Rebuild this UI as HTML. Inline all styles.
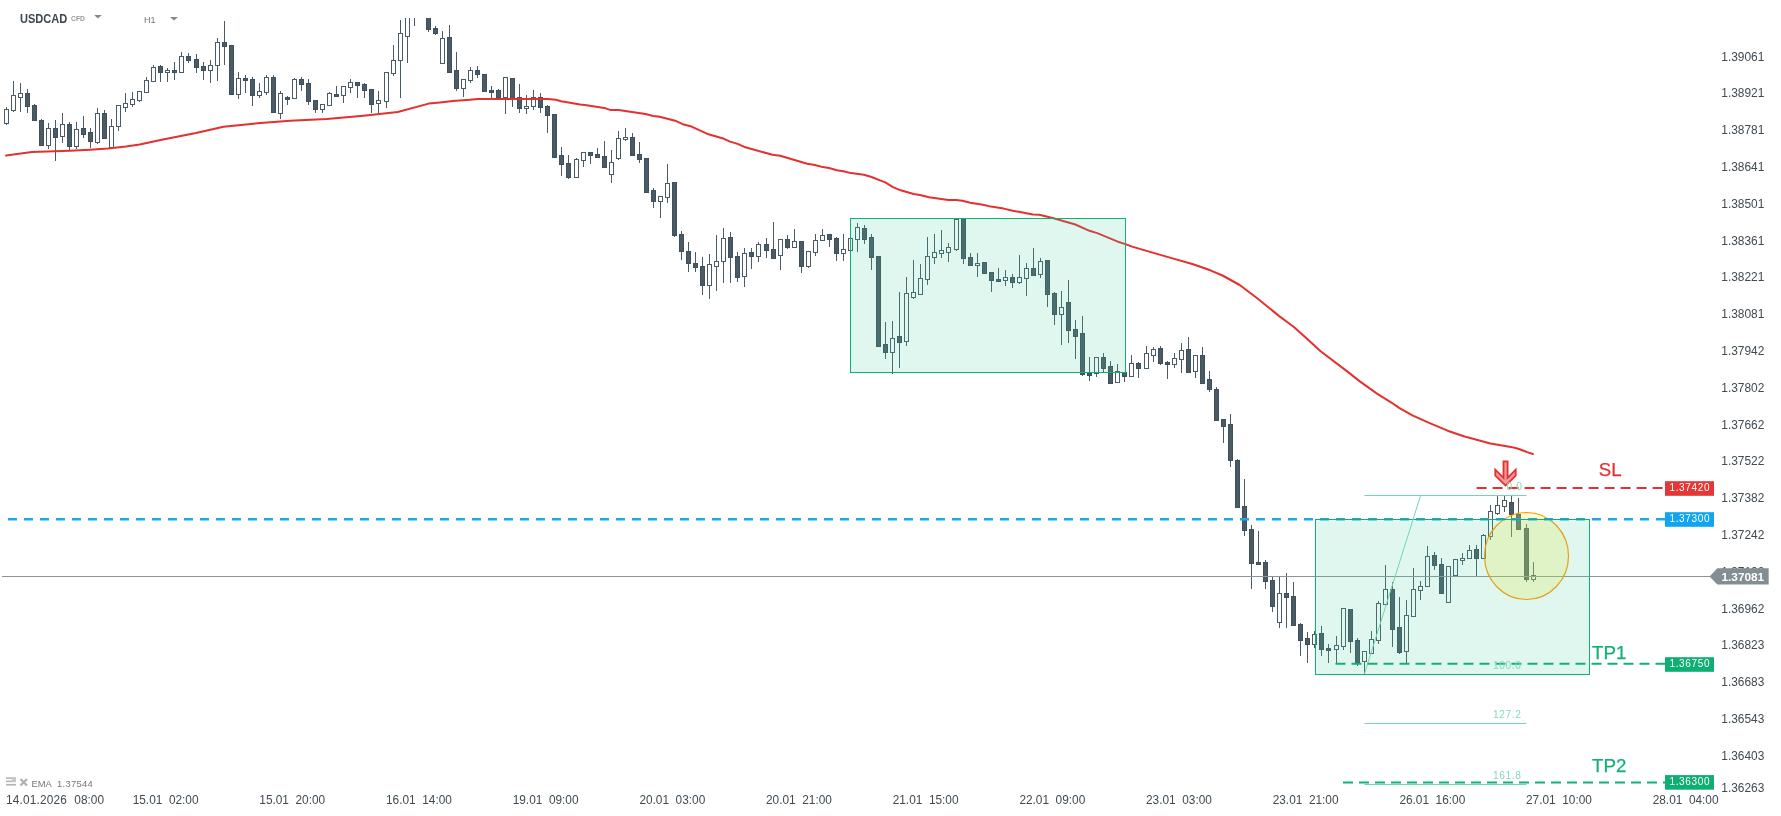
<!DOCTYPE html>
<html><head><meta charset="utf-8"><title>USDCAD H1</title>
<style>
html,body{margin:0;padding:0;background:#fff;}
body{width:1781px;height:816px;position:relative;overflow:hidden;font-family:"Liberation Sans",sans-serif;}
svg{position:absolute;left:0;top:0;}
.pl{position:absolute;left:1721.3px;font-size:11.9px;line-height:14px;height:14px;color:#3f4a52;white-space:nowrap;}
.tl{position:absolute;top:792.6px;font-size:11.85px;line-height:14px;height:14px;color:#3f4a52;white-space:nowrap;}
.tag{position:absolute;left:1665px;width:49px;height:14.6px;line-height:14.6px;color:#fff;font-size:10px;letter-spacing:0.65px;text-indent:0.6px;text-align:center;white-space:nowrap;}
.big{position:absolute;-webkit-text-stroke:0.25px;font-size:18.7px;line-height:20px;white-space:nowrap;}
.fib{position:absolute;left:1493px;font-size:10.2px;line-height:10px;color:#7fdcb8;letter-spacing:0.6px;white-space:nowrap;}
</style></head><body>
<svg width="1781" height="816" viewBox="0 0 1781 816">
<defs><clipPath id="cp"><rect x="0" y="18" width="1715" height="775"/></clipPath></defs>
<g clip-path="url(#cp)" shape-rendering="crispEdges">
<path d="M6.5 107V109" stroke="#4a5b66" stroke-width="1"/>
<path d="M6.5 124V125" stroke="#4a5b66" stroke-width="1"/>
<rect x="4.5" y="109.5" width="4" height="14" fill="#fff" stroke="#4a5b66" stroke-width="1"/>
<path d="M13.5 81V95" stroke="#4a5b66" stroke-width="1"/>
<path d="M13.5 111V112" stroke="#4a5b66" stroke-width="1"/>
<rect x="11.5" y="95.5" width="4" height="15" fill="#fff" stroke="#4a5b66" stroke-width="1"/>
<path d="M20.5 83V93" stroke="#4a5b66" stroke-width="1"/>
<path d="M20.5 98V112" stroke="#4a5b66" stroke-width="1"/>
<rect x="18.5" y="93.5" width="4" height="4" fill="#fff" stroke="#4a5b66" stroke-width="1"/>
<path d="M27.5 89V113" stroke="#4a5b66" stroke-width="1"/>
<rect x="25.5" y="93.5" width="4" height="13" fill="#4a5b66" stroke="#3e505c" stroke-width="1"/>
<path d="M34.5 104V121" stroke="#4a5b66" stroke-width="1"/>
<rect x="32.5" y="105.5" width="4" height="15" fill="#4a5b66" stroke="#3e505c" stroke-width="1"/>
<path d="M41.5 119V146" stroke="#4a5b66" stroke-width="1"/>
<rect x="39.5" y="120.5" width="4" height="25" fill="#4a5b66" stroke="#3e505c" stroke-width="1"/>
<path d="M48.5 123V128" stroke="#4a5b66" stroke-width="1"/>
<path d="M48.5 146V149" stroke="#4a5b66" stroke-width="1"/>
<rect x="46.5" y="128.5" width="4" height="17" fill="#fff" stroke="#4a5b66" stroke-width="1"/>
<path d="M55.5 120V161" stroke="#4a5b66" stroke-width="1"/>
<rect x="53.5" y="128.5" width="4" height="9" fill="#4a5b66" stroke="#3e505c" stroke-width="1"/>
<path d="M62.5 113V124" stroke="#4a5b66" stroke-width="1"/>
<path d="M62.5 137V143" stroke="#4a5b66" stroke-width="1"/>
<rect x="60.5" y="124.5" width="4" height="12" fill="#fff" stroke="#4a5b66" stroke-width="1"/>
<path d="M69.5 122V150" stroke="#4a5b66" stroke-width="1"/>
<rect x="67.5" y="124.5" width="4" height="22" fill="#4a5b66" stroke="#3e505c" stroke-width="1"/>
<path d="M76.5 122V129" stroke="#4a5b66" stroke-width="1"/>
<path d="M76.5 147V149" stroke="#4a5b66" stroke-width="1"/>
<rect x="74.5" y="129.5" width="4" height="17" fill="#fff" stroke="#4a5b66" stroke-width="1"/>
<path d="M83.5 116V138" stroke="#4a5b66" stroke-width="1"/>
<rect x="81.5" y="128.5" width="4" height="6" fill="#4a5b66" stroke="#3e505c" stroke-width="1"/>
<path d="M90.5 128V148" stroke="#4a5b66" stroke-width="1"/>
<rect x="88.5" y="132.5" width="4" height="9" fill="#4a5b66" stroke="#3e505c" stroke-width="1"/>
<path d="M97.5 108V113" stroke="#4a5b66" stroke-width="1"/>
<path d="M97.5 143V144" stroke="#4a5b66" stroke-width="1"/>
<rect x="95.5" y="113.5" width="4" height="29" fill="#fff" stroke="#4a5b66" stroke-width="1"/>
<path d="M104.5 110V139" stroke="#4a5b66" stroke-width="1"/>
<rect x="102.5" y="113.5" width="4" height="25" fill="#4a5b66" stroke="#3e505c" stroke-width="1"/>
<path d="M111.5 119V126" stroke="#4a5b66" stroke-width="1"/>
<rect x="109.5" y="126.5" width="4" height="21" fill="#fff" stroke="#4a5b66" stroke-width="1"/>
<path d="M118.5 127V131" stroke="#4a5b66" stroke-width="1"/>
<rect x="116.5" y="105.5" width="4" height="21" fill="#fff" stroke="#4a5b66" stroke-width="1"/>
<path d="M125.5 93V103" stroke="#4a5b66" stroke-width="1"/>
<path d="M125.5 108V112" stroke="#4a5b66" stroke-width="1"/>
<rect x="123.5" y="103.5" width="4" height="4" fill="#fff" stroke="#4a5b66" stroke-width="1"/>
<path d="M132.5 92V99" stroke="#4a5b66" stroke-width="1"/>
<path d="M132.5 105V107" stroke="#4a5b66" stroke-width="1"/>
<rect x="130.5" y="99.5" width="4" height="5" fill="#fff" stroke="#4a5b66" stroke-width="1"/>
<path d="M139.5 101V102" stroke="#4a5b66" stroke-width="1"/>
<rect x="137.5" y="91.5" width="4" height="9" fill="#fff" stroke="#4a5b66" stroke-width="1"/>
<path d="M146.5 77V80" stroke="#4a5b66" stroke-width="1"/>
<rect x="144.5" y="80.5" width="4" height="12" fill="#fff" stroke="#4a5b66" stroke-width="1"/>
<path d="M153.5 65V67" stroke="#4a5b66" stroke-width="1"/>
<rect x="151.5" y="67.5" width="4" height="14" fill="#fff" stroke="#4a5b66" stroke-width="1"/>
<path d="M160.5 65V82" stroke="#4a5b66" stroke-width="1"/>
<rect x="158.5" y="66.5" width="4" height="6" fill="#4a5b66" stroke="#3e505c" stroke-width="1"/>
<path d="M167.5 68V70" stroke="#4a5b66" stroke-width="1"/>
<path d="M167.5 73V82" stroke="#4a5b66" stroke-width="1"/>
<rect x="165.5" y="70.5" width="4" height="2" fill="#fff" stroke="#4a5b66" stroke-width="1"/>
<path d="M174.5 62V80" stroke="#4a5b66" stroke-width="1"/>
<rect x="172.5" y="70.5" width="4" height="2" fill="#4a5b66" stroke="#3e505c" stroke-width="1"/>
<path d="M181.5 52V56" stroke="#4a5b66" stroke-width="1"/>
<rect x="179.5" y="56.5" width="4" height="16" fill="#fff" stroke="#4a5b66" stroke-width="1"/>
<path d="M188.5 53V63" stroke="#4a5b66" stroke-width="1"/>
<rect x="186.5" y="56.5" width="4" height="4" fill="#4a5b66" stroke="#3e505c" stroke-width="1"/>
<path d="M196.5 54V73" stroke="#4a5b66" stroke-width="1"/>
<rect x="194.5" y="59.5" width="4" height="8" fill="#4a5b66" stroke="#3e505c" stroke-width="1"/>
<path d="M203.5 62V80" stroke="#4a5b66" stroke-width="1"/>
<rect x="201.5" y="66.5" width="4" height="4" fill="#4a5b66" stroke="#3e505c" stroke-width="1"/>
<path d="M210.5 60V65" stroke="#4a5b66" stroke-width="1"/>
<path d="M210.5 71V83" stroke="#4a5b66" stroke-width="1"/>
<rect x="208.5" y="65.5" width="4" height="5" fill="#fff" stroke="#4a5b66" stroke-width="1"/>
<path d="M217.5 38V42" stroke="#4a5b66" stroke-width="1"/>
<path d="M217.5 66V81" stroke="#4a5b66" stroke-width="1"/>
<rect x="215.5" y="42.5" width="4" height="23" fill="#fff" stroke="#4a5b66" stroke-width="1"/>
<path d="M224.5 21V65" stroke="#4a5b66" stroke-width="1"/>
<rect x="222.5" y="42.5" width="4" height="4" fill="#4a5b66" stroke="#3e505c" stroke-width="1"/>
<path d="M231.5 45V95" stroke="#4a5b66" stroke-width="1"/>
<rect x="229.5" y="45.5" width="4" height="49" fill="#4a5b66" stroke="#3e505c" stroke-width="1"/>
<path d="M238.5 72V78" stroke="#4a5b66" stroke-width="1"/>
<path d="M238.5 95V99" stroke="#4a5b66" stroke-width="1"/>
<rect x="236.5" y="78.5" width="4" height="16" fill="#fff" stroke="#4a5b66" stroke-width="1"/>
<path d="M245.5 75V93" stroke="#4a5b66" stroke-width="1"/>
<rect x="243.5" y="78.5" width="4" height="2" fill="#4a5b66" stroke="#3e505c" stroke-width="1"/>
<path d="M252.5 77V106" stroke="#4a5b66" stroke-width="1"/>
<rect x="250.5" y="79.5" width="4" height="16" fill="#4a5b66" stroke="#3e505c" stroke-width="1"/>
<path d="M259.5 83V91" stroke="#4a5b66" stroke-width="1"/>
<path d="M259.5 96V98" stroke="#4a5b66" stroke-width="1"/>
<rect x="257.5" y="91.5" width="4" height="4" fill="#fff" stroke="#4a5b66" stroke-width="1"/>
<path d="M266.5 75V77" stroke="#4a5b66" stroke-width="1"/>
<path d="M266.5 93V95" stroke="#4a5b66" stroke-width="1"/>
<rect x="264.5" y="77.5" width="4" height="15" fill="#fff" stroke="#4a5b66" stroke-width="1"/>
<path d="M273.5 75V113" stroke="#4a5b66" stroke-width="1"/>
<rect x="271.5" y="77.5" width="4" height="35" fill="#4a5b66" stroke="#3e505c" stroke-width="1"/>
<path d="M280.5 91V93" stroke="#4a5b66" stroke-width="1"/>
<path d="M280.5 114V119" stroke="#4a5b66" stroke-width="1"/>
<rect x="278.5" y="93.5" width="4" height="20" fill="#fff" stroke="#4a5b66" stroke-width="1"/>
<path d="M287.5 96V105" stroke="#4a5b66" stroke-width="1"/>
<rect x="285.5" y="97.5" width="4" height="2" fill="#4a5b66" stroke="#3e505c" stroke-width="1"/>
<path d="M294.5 78V79" stroke="#4a5b66" stroke-width="1"/>
<rect x="292.5" y="79.5" width="4" height="19" fill="#fff" stroke="#4a5b66" stroke-width="1"/>
<path d="M301.5 77V91" stroke="#4a5b66" stroke-width="1"/>
<rect x="299.5" y="79.5" width="4" height="5" fill="#4a5b66" stroke="#3e505c" stroke-width="1"/>
<path d="M308.5 79V105" stroke="#4a5b66" stroke-width="1"/>
<rect x="306.5" y="83.5" width="4" height="18" fill="#4a5b66" stroke="#3e505c" stroke-width="1"/>
<path d="M315.5 100V113" stroke="#4a5b66" stroke-width="1"/>
<rect x="313.5" y="100.5" width="4" height="9" fill="#4a5b66" stroke="#3e505c" stroke-width="1"/>
<path d="M322.5 110V113" stroke="#4a5b66" stroke-width="1"/>
<rect x="320.5" y="104.5" width="4" height="5" fill="#fff" stroke="#4a5b66" stroke-width="1"/>
<path d="M329.5 92V93" stroke="#4a5b66" stroke-width="1"/>
<rect x="327.5" y="93.5" width="4" height="12" fill="#fff" stroke="#4a5b66" stroke-width="1"/>
<path d="M336.5 86V97" stroke="#4a5b66" stroke-width="1"/>
<rect x="334.5" y="94.5" width="4" height="2" fill="#4a5b66" stroke="#3e505c" stroke-width="1"/>
<path d="M343.5 96V103" stroke="#4a5b66" stroke-width="1"/>
<rect x="341.5" y="86.5" width="4" height="9" fill="#fff" stroke="#4a5b66" stroke-width="1"/>
<path d="M350.5 79V82" stroke="#4a5b66" stroke-width="1"/>
<path d="M350.5 88V93" stroke="#4a5b66" stroke-width="1"/>
<rect x="348.5" y="82.5" width="4" height="5" fill="#fff" stroke="#4a5b66" stroke-width="1"/>
<path d="M357.5 82V98" stroke="#4a5b66" stroke-width="1"/>
<rect x="355.5" y="82.5" width="4" height="3" fill="#4a5b66" stroke="#3e505c" stroke-width="1"/>
<path d="M364.5 83V98" stroke="#4a5b66" stroke-width="1"/>
<rect x="362.5" y="84.5" width="4" height="6" fill="#4a5b66" stroke="#3e505c" stroke-width="1"/>
<path d="M371.5 89V113" stroke="#4a5b66" stroke-width="1"/>
<rect x="369.5" y="89.5" width="4" height="15" fill="#4a5b66" stroke="#3e505c" stroke-width="1"/>
<path d="M378.5 91V100" stroke="#4a5b66" stroke-width="1"/>
<path d="M378.5 104V113" stroke="#4a5b66" stroke-width="1"/>
<rect x="376.5" y="100.5" width="4" height="3" fill="#fff" stroke="#4a5b66" stroke-width="1"/>
<path d="M386.5 102V108" stroke="#4a5b66" stroke-width="1"/>
<rect x="384.5" y="72.5" width="4" height="29" fill="#fff" stroke="#4a5b66" stroke-width="1"/>
<path d="M393.5 45V60" stroke="#4a5b66" stroke-width="1"/>
<path d="M393.5 74V76" stroke="#4a5b66" stroke-width="1"/>
<rect x="391.5" y="60.5" width="4" height="13" fill="#fff" stroke="#4a5b66" stroke-width="1"/>
<path d="M400.5 20V33" stroke="#4a5b66" stroke-width="1"/>
<path d="M400.5 61V98" stroke="#4a5b66" stroke-width="1"/>
<rect x="398.5" y="33.5" width="4" height="27" fill="#fff" stroke="#4a5b66" stroke-width="1"/>
<path d="M407.5 37V63" stroke="#4a5b66" stroke-width="1"/>
<rect x="405.5" y="-9.5" width="4" height="46" fill="#fff" stroke="#4a5b66" stroke-width="1"/>
<path d="M414.5 -4V26" stroke="#4a5b66" stroke-width="1"/>
<rect x="412.5" y="-9.5" width="4" height="5" fill="#fff" stroke="#4a5b66" stroke-width="1"/>
<path d="M428.5 -10V32" stroke="#4a5b66" stroke-width="1"/>
<rect x="426.5" y="-9.5" width="4" height="39" fill="#4a5b66" stroke="#3e505c" stroke-width="1"/>
<path d="M435.5 26V35" stroke="#4a5b66" stroke-width="1"/>
<rect x="433.5" y="28.5" width="4" height="5" fill="#4a5b66" stroke="#3e505c" stroke-width="1"/>
<path d="M442.5 31V38" stroke="#4a5b66" stroke-width="1"/>
<rect x="440.5" y="38.5" width="4" height="25" fill="#fff" stroke="#4a5b66" stroke-width="1"/>
<path d="M449.5 25V73" stroke="#4a5b66" stroke-width="1"/>
<rect x="447.5" y="37.5" width="4" height="35" fill="#4a5b66" stroke="#3e505c" stroke-width="1"/>
<path d="M456.5 52V91" stroke="#4a5b66" stroke-width="1"/>
<rect x="454.5" y="70.5" width="4" height="18" fill="#4a5b66" stroke="#3e505c" stroke-width="1"/>
<path d="M463.5 89V97" stroke="#4a5b66" stroke-width="1"/>
<rect x="461.5" y="79.5" width="4" height="9" fill="#fff" stroke="#4a5b66" stroke-width="1"/>
<path d="M470.5 67V70" stroke="#4a5b66" stroke-width="1"/>
<path d="M470.5 81V83" stroke="#4a5b66" stroke-width="1"/>
<rect x="468.5" y="70.5" width="4" height="10" fill="#fff" stroke="#4a5b66" stroke-width="1"/>
<path d="M477.5 66V78" stroke="#4a5b66" stroke-width="1"/>
<rect x="475.5" y="70.5" width="4" height="4" fill="#4a5b66" stroke="#3e505c" stroke-width="1"/>
<path d="M484.5 74V92" stroke="#4a5b66" stroke-width="1"/>
<rect x="482.5" y="74.5" width="4" height="17" fill="#4a5b66" stroke="#3e505c" stroke-width="1"/>
<path d="M491.5 86V98" stroke="#4a5b66" stroke-width="1"/>
<rect x="489.5" y="90.5" width="4" height="2" fill="#4a5b66" stroke="#3e505c" stroke-width="1"/>
<path d="M498.5 89V98" stroke="#4a5b66" stroke-width="1"/>
<rect x="496.5" y="90.5" width="4" height="7" fill="#4a5b66" stroke="#3e505c" stroke-width="1"/>
<path d="M505.5 98V114" stroke="#4a5b66" stroke-width="1"/>
<rect x="503.5" y="77.5" width="4" height="20" fill="#fff" stroke="#4a5b66" stroke-width="1"/>
<path d="M512.5 78V107" stroke="#4a5b66" stroke-width="1"/>
<rect x="510.5" y="78.5" width="4" height="20" fill="#4a5b66" stroke="#3e505c" stroke-width="1"/>
<path d="M519.5 84V113" stroke="#4a5b66" stroke-width="1"/>
<rect x="517.5" y="97.5" width="4" height="11" fill="#4a5b66" stroke="#3e505c" stroke-width="1"/>
<path d="M526.5 95V106" stroke="#4a5b66" stroke-width="1"/>
<path d="M526.5 109V114" stroke="#4a5b66" stroke-width="1"/>
<rect x="524.5" y="106.5" width="4" height="2" fill="#fff" stroke="#4a5b66" stroke-width="1"/>
<path d="M533.5 90V97" stroke="#4a5b66" stroke-width="1"/>
<path d="M533.5 107V110" stroke="#4a5b66" stroke-width="1"/>
<rect x="531.5" y="97.5" width="4" height="9" fill="#fff" stroke="#4a5b66" stroke-width="1"/>
<path d="M540.5 93V113" stroke="#4a5b66" stroke-width="1"/>
<rect x="538.5" y="97.5" width="4" height="10" fill="#4a5b66" stroke="#3e505c" stroke-width="1"/>
<path d="M547.5 105V133" stroke="#4a5b66" stroke-width="1"/>
<rect x="545.5" y="106.5" width="4" height="9" fill="#4a5b66" stroke="#3e505c" stroke-width="1"/>
<path d="M554.5 114V158" stroke="#4a5b66" stroke-width="1"/>
<rect x="552.5" y="114.5" width="4" height="43" fill="#4a5b66" stroke="#3e505c" stroke-width="1"/>
<path d="M561.5 147V176" stroke="#4a5b66" stroke-width="1"/>
<rect x="559.5" y="155.5" width="4" height="9" fill="#4a5b66" stroke="#3e505c" stroke-width="1"/>
<path d="M568.5 155V179" stroke="#4a5b66" stroke-width="1"/>
<rect x="566.5" y="163.5" width="4" height="14" fill="#4a5b66" stroke="#3e505c" stroke-width="1"/>
<path d="M576.5 158V159" stroke="#4a5b66" stroke-width="1"/>
<rect x="574.5" y="159.5" width="4" height="18" fill="#fff" stroke="#4a5b66" stroke-width="1"/>
<path d="M583.5 161V167" stroke="#4a5b66" stroke-width="1"/>
<rect x="581.5" y="152.5" width="4" height="8" fill="#fff" stroke="#4a5b66" stroke-width="1"/>
<path d="M590.5 152V164" stroke="#4a5b66" stroke-width="1"/>
<rect x="588.5" y="152.5" width="4" height="3" fill="#4a5b66" stroke="#3e505c" stroke-width="1"/>
<path d="M597.5 148V158" stroke="#4a5b66" stroke-width="1"/>
<rect x="595.5" y="154.5" width="4" height="3" fill="#4a5b66" stroke="#3e505c" stroke-width="1"/>
<path d="M604.5 141V168" stroke="#4a5b66" stroke-width="1"/>
<rect x="602.5" y="156.5" width="4" height="11" fill="#4a5b66" stroke="#3e505c" stroke-width="1"/>
<path d="M611.5 150V162" stroke="#4a5b66" stroke-width="1"/>
<path d="M611.5 175V183" stroke="#4a5b66" stroke-width="1"/>
<rect x="609.5" y="162.5" width="4" height="12" fill="#fff" stroke="#4a5b66" stroke-width="1"/>
<path d="M618.5 131V138" stroke="#4a5b66" stroke-width="1"/>
<path d="M618.5 159V160" stroke="#4a5b66" stroke-width="1"/>
<rect x="616.5" y="138.5" width="4" height="20" fill="#fff" stroke="#4a5b66" stroke-width="1"/>
<path d="M625.5 128V137" stroke="#4a5b66" stroke-width="1"/>
<path d="M625.5 140V141" stroke="#4a5b66" stroke-width="1"/>
<rect x="623.5" y="137.5" width="4" height="2" fill="#fff" stroke="#4a5b66" stroke-width="1"/>
<path d="M632.5 133V156" stroke="#4a5b66" stroke-width="1"/>
<rect x="630.5" y="137.5" width="4" height="18" fill="#4a5b66" stroke="#3e505c" stroke-width="1"/>
<path d="M639.5 142V163" stroke="#4a5b66" stroke-width="1"/>
<rect x="637.5" y="154.5" width="4" height="5" fill="#4a5b66" stroke="#3e505c" stroke-width="1"/>
<path d="M646.5 158V193" stroke="#4a5b66" stroke-width="1"/>
<rect x="644.5" y="158.5" width="4" height="34" fill="#4a5b66" stroke="#3e505c" stroke-width="1"/>
<path d="M653.5 188V208" stroke="#4a5b66" stroke-width="1"/>
<rect x="651.5" y="190.5" width="4" height="11" fill="#4a5b66" stroke="#3e505c" stroke-width="1"/>
<path d="M660.5 202V218" stroke="#4a5b66" stroke-width="1"/>
<rect x="658.5" y="196.5" width="4" height="5" fill="#fff" stroke="#4a5b66" stroke-width="1"/>
<path d="M667.5 164V183" stroke="#4a5b66" stroke-width="1"/>
<path d="M667.5 198V203" stroke="#4a5b66" stroke-width="1"/>
<rect x="665.5" y="183.5" width="4" height="14" fill="#fff" stroke="#4a5b66" stroke-width="1"/>
<path d="M674.5 182V237" stroke="#4a5b66" stroke-width="1"/>
<rect x="672.5" y="182.5" width="4" height="53" fill="#4a5b66" stroke="#3e505c" stroke-width="1"/>
<path d="M681.5 231V260" stroke="#4a5b66" stroke-width="1"/>
<rect x="679.5" y="234.5" width="4" height="17" fill="#4a5b66" stroke="#3e505c" stroke-width="1"/>
<path d="M688.5 242V272" stroke="#4a5b66" stroke-width="1"/>
<rect x="686.5" y="251.5" width="4" height="12" fill="#4a5b66" stroke="#3e505c" stroke-width="1"/>
<path d="M695.5 252V272" stroke="#4a5b66" stroke-width="1"/>
<rect x="693.5" y="263.5" width="4" height="4" fill="#4a5b66" stroke="#3e505c" stroke-width="1"/>
<path d="M702.5 257V295" stroke="#4a5b66" stroke-width="1"/>
<rect x="700.5" y="266.5" width="4" height="19" fill="#4a5b66" stroke="#3e505c" stroke-width="1"/>
<path d="M709.5 254V264" stroke="#4a5b66" stroke-width="1"/>
<path d="M709.5 286V299" stroke="#4a5b66" stroke-width="1"/>
<rect x="707.5" y="264.5" width="4" height="21" fill="#fff" stroke="#4a5b66" stroke-width="1"/>
<path d="M716.5 235V261" stroke="#4a5b66" stroke-width="1"/>
<path d="M716.5 267V291" stroke="#4a5b66" stroke-width="1"/>
<rect x="714.5" y="261.5" width="4" height="5" fill="#fff" stroke="#4a5b66" stroke-width="1"/>
<path d="M723.5 228V238" stroke="#4a5b66" stroke-width="1"/>
<path d="M723.5 262V283" stroke="#4a5b66" stroke-width="1"/>
<rect x="721.5" y="238.5" width="4" height="23" fill="#fff" stroke="#4a5b66" stroke-width="1"/>
<path d="M730.5 232V283" stroke="#4a5b66" stroke-width="1"/>
<rect x="728.5" y="237.5" width="4" height="20" fill="#4a5b66" stroke="#3e505c" stroke-width="1"/>
<path d="M737.5 252V282" stroke="#4a5b66" stroke-width="1"/>
<rect x="735.5" y="256.5" width="4" height="21" fill="#4a5b66" stroke="#3e505c" stroke-width="1"/>
<path d="M744.5 248V253" stroke="#4a5b66" stroke-width="1"/>
<path d="M744.5 277V287" stroke="#4a5b66" stroke-width="1"/>
<rect x="742.5" y="253.5" width="4" height="23" fill="#fff" stroke="#4a5b66" stroke-width="1"/>
<path d="M751.5 248V269" stroke="#4a5b66" stroke-width="1"/>
<rect x="749.5" y="252.5" width="4" height="4" fill="#4a5b66" stroke="#3e505c" stroke-width="1"/>
<path d="M758.5 242V244" stroke="#4a5b66" stroke-width="1"/>
<path d="M758.5 257V262" stroke="#4a5b66" stroke-width="1"/>
<rect x="756.5" y="244.5" width="4" height="12" fill="#fff" stroke="#4a5b66" stroke-width="1"/>
<path d="M766.5 238V258" stroke="#4a5b66" stroke-width="1"/>
<rect x="764.5" y="244.5" width="4" height="6" fill="#4a5b66" stroke="#3e505c" stroke-width="1"/>
<path d="M773.5 222V259" stroke="#4a5b66" stroke-width="1"/>
<rect x="771.5" y="249.5" width="4" height="9" fill="#4a5b66" stroke="#3e505c" stroke-width="1"/>
<path d="M780.5 256V270" stroke="#4a5b66" stroke-width="1"/>
<rect x="778.5" y="239.5" width="4" height="16" fill="#fff" stroke="#4a5b66" stroke-width="1"/>
<path d="M787.5 235V249" stroke="#4a5b66" stroke-width="1"/>
<rect x="785.5" y="239.5" width="4" height="8" fill="#4a5b66" stroke="#3e505c" stroke-width="1"/>
<path d="M794.5 229V241" stroke="#4a5b66" stroke-width="1"/>
<rect x="792.5" y="241.5" width="4" height="6" fill="#fff" stroke="#4a5b66" stroke-width="1"/>
<path d="M801.5 241V273" stroke="#4a5b66" stroke-width="1"/>
<rect x="799.5" y="241.5" width="4" height="25" fill="#4a5b66" stroke="#3e505c" stroke-width="1"/>
<path d="M808.5 267V268" stroke="#4a5b66" stroke-width="1"/>
<rect x="806.5" y="251.5" width="4" height="15" fill="#fff" stroke="#4a5b66" stroke-width="1"/>
<path d="M815.5 234V240" stroke="#4a5b66" stroke-width="1"/>
<path d="M815.5 253V256" stroke="#4a5b66" stroke-width="1"/>
<rect x="813.5" y="240.5" width="4" height="12" fill="#fff" stroke="#4a5b66" stroke-width="1"/>
<path d="M822.5 229V235" stroke="#4a5b66" stroke-width="1"/>
<rect x="820.5" y="235.5" width="4" height="5" fill="#fff" stroke="#4a5b66" stroke-width="1"/>
<path d="M829.5 234V247" stroke="#4a5b66" stroke-width="1"/>
<rect x="827.5" y="234.5" width="4" height="5" fill="#4a5b66" stroke="#3e505c" stroke-width="1"/>
<path d="M836.5 237V261" stroke="#4a5b66" stroke-width="1"/>
<rect x="834.5" y="238.5" width="4" height="15" fill="#4a5b66" stroke="#3e505c" stroke-width="1"/>
<path d="M843.5 234V249" stroke="#4a5b66" stroke-width="1"/>
<path d="M843.5 254V261" stroke="#4a5b66" stroke-width="1"/>
<rect x="841.5" y="249.5" width="4" height="4" fill="#fff" stroke="#4a5b66" stroke-width="1"/>
<rect x="848.5" y="238.5" width="4" height="12" fill="#fff" stroke="#4a5b66" stroke-width="1"/>
<path d="M857.5 223V227" stroke="#4a5b66" stroke-width="1"/>
<path d="M857.5 240V252" stroke="#4a5b66" stroke-width="1"/>
<rect x="855.5" y="227.5" width="4" height="12" fill="#fff" stroke="#4a5b66" stroke-width="1"/>
<path d="M864.5 225V244" stroke="#4a5b66" stroke-width="1"/>
<rect x="862.5" y="228.5" width="4" height="11" fill="#4a5b66" stroke="#3e505c" stroke-width="1"/>
<path d="M871.5 234V270" stroke="#4a5b66" stroke-width="1"/>
<rect x="869.5" y="237.5" width="4" height="20" fill="#4a5b66" stroke="#3e505c" stroke-width="1"/>
<path d="M878.5 256V347" stroke="#4a5b66" stroke-width="1"/>
<rect x="876.5" y="256.5" width="4" height="90" fill="#4a5b66" stroke="#3e505c" stroke-width="1"/>
<path d="M885.5 322V359" stroke="#4a5b66" stroke-width="1"/>
<rect x="883.5" y="344.5" width="4" height="8" fill="#4a5b66" stroke="#3e505c" stroke-width="1"/>
<path d="M892.5 321V338" stroke="#4a5b66" stroke-width="1"/>
<path d="M892.5 353V374" stroke="#4a5b66" stroke-width="1"/>
<rect x="890.5" y="338.5" width="4" height="14" fill="#fff" stroke="#4a5b66" stroke-width="1"/>
<path d="M899.5 292V368" stroke="#4a5b66" stroke-width="1"/>
<rect x="897.5" y="336.5" width="4" height="6" fill="#4a5b66" stroke="#3e505c" stroke-width="1"/>
<path d="M906.5 277V293" stroke="#4a5b66" stroke-width="1"/>
<path d="M906.5 342V346" stroke="#4a5b66" stroke-width="1"/>
<rect x="904.5" y="293.5" width="4" height="48" fill="#fff" stroke="#4a5b66" stroke-width="1"/>
<path d="M913.5 260V292" stroke="#4a5b66" stroke-width="1"/>
<path d="M913.5 298V299" stroke="#4a5b66" stroke-width="1"/>
<rect x="911.5" y="292.5" width="4" height="5" fill="#fff" stroke="#4a5b66" stroke-width="1"/>
<path d="M920.5 264V278" stroke="#4a5b66" stroke-width="1"/>
<rect x="918.5" y="278.5" width="4" height="16" fill="#fff" stroke="#4a5b66" stroke-width="1"/>
<path d="M927.5 237V256" stroke="#4a5b66" stroke-width="1"/>
<path d="M927.5 280V285" stroke="#4a5b66" stroke-width="1"/>
<rect x="925.5" y="256.5" width="4" height="23" fill="#fff" stroke="#4a5b66" stroke-width="1"/>
<path d="M934.5 234V252" stroke="#4a5b66" stroke-width="1"/>
<path d="M934.5 258V264" stroke="#4a5b66" stroke-width="1"/>
<rect x="932.5" y="252.5" width="4" height="5" fill="#fff" stroke="#4a5b66" stroke-width="1"/>
<path d="M941.5 230V250" stroke="#4a5b66" stroke-width="1"/>
<path d="M941.5 254V258" stroke="#4a5b66" stroke-width="1"/>
<rect x="939.5" y="250.5" width="4" height="3" fill="#fff" stroke="#4a5b66" stroke-width="1"/>
<path d="M948.5 243V247" stroke="#4a5b66" stroke-width="1"/>
<path d="M948.5 253V262" stroke="#4a5b66" stroke-width="1"/>
<rect x="946.5" y="247.5" width="4" height="5" fill="#fff" stroke="#4a5b66" stroke-width="1"/>
<path d="M956.5 250V251" stroke="#4a5b66" stroke-width="1"/>
<rect x="954.5" y="219.5" width="4" height="30" fill="#fff" stroke="#4a5b66" stroke-width="1"/>
<path d="M963.5 218V264" stroke="#4a5b66" stroke-width="1"/>
<rect x="961.5" y="218.5" width="4" height="40" fill="#4a5b66" stroke="#3e505c" stroke-width="1"/>
<path d="M970.5 253V266" stroke="#4a5b66" stroke-width="1"/>
<rect x="968.5" y="257.5" width="4" height="8" fill="#4a5b66" stroke="#3e505c" stroke-width="1"/>
<path d="M977.5 253V263" stroke="#4a5b66" stroke-width="1"/>
<path d="M977.5 266V277" stroke="#4a5b66" stroke-width="1"/>
<rect x="975.5" y="263.5" width="4" height="2" fill="#fff" stroke="#4a5b66" stroke-width="1"/>
<path d="M984.5 262V274" stroke="#4a5b66" stroke-width="1"/>
<rect x="982.5" y="262.5" width="4" height="11" fill="#4a5b66" stroke="#3e505c" stroke-width="1"/>
<path d="M991.5 272V292" stroke="#4a5b66" stroke-width="1"/>
<rect x="989.5" y="272.5" width="4" height="8" fill="#4a5b66" stroke="#3e505c" stroke-width="1"/>
<path d="M998.5 268V282" stroke="#4a5b66" stroke-width="1"/>
<rect x="996.5" y="279.5" width="4" height="2" fill="#4a5b66" stroke="#3e505c" stroke-width="1"/>
<path d="M1005.5 270V277" stroke="#4a5b66" stroke-width="1"/>
<path d="M1005.5 281V286" stroke="#4a5b66" stroke-width="1"/>
<rect x="1003.5" y="277.5" width="4" height="3" fill="#fff" stroke="#4a5b66" stroke-width="1"/>
<path d="M1012.5 274V288" stroke="#4a5b66" stroke-width="1"/>
<rect x="1010.5" y="277.5" width="4" height="5" fill="#4a5b66" stroke="#3e505c" stroke-width="1"/>
<path d="M1019.5 255V277" stroke="#4a5b66" stroke-width="1"/>
<path d="M1019.5 283V284" stroke="#4a5b66" stroke-width="1"/>
<rect x="1017.5" y="277.5" width="4" height="5" fill="#fff" stroke="#4a5b66" stroke-width="1"/>
<path d="M1026.5 263V268" stroke="#4a5b66" stroke-width="1"/>
<path d="M1026.5 279V296" stroke="#4a5b66" stroke-width="1"/>
<rect x="1024.5" y="268.5" width="4" height="10" fill="#fff" stroke="#4a5b66" stroke-width="1"/>
<path d="M1033.5 248V276" stroke="#4a5b66" stroke-width="1"/>
<rect x="1031.5" y="268.5" width="4" height="7" fill="#4a5b66" stroke="#3e505c" stroke-width="1"/>
<path d="M1040.5 258V261" stroke="#4a5b66" stroke-width="1"/>
<path d="M1040.5 275V278" stroke="#4a5b66" stroke-width="1"/>
<rect x="1038.5" y="261.5" width="4" height="13" fill="#fff" stroke="#4a5b66" stroke-width="1"/>
<path d="M1047.5 260V307" stroke="#4a5b66" stroke-width="1"/>
<rect x="1045.5" y="260.5" width="4" height="34" fill="#4a5b66" stroke="#3e505c" stroke-width="1"/>
<path d="M1054.5 292V325" stroke="#4a5b66" stroke-width="1"/>
<rect x="1052.5" y="293.5" width="4" height="21" fill="#4a5b66" stroke="#3e505c" stroke-width="1"/>
<path d="M1061.5 291V307" stroke="#4a5b66" stroke-width="1"/>
<path d="M1061.5 315V345" stroke="#4a5b66" stroke-width="1"/>
<rect x="1059.5" y="307.5" width="4" height="7" fill="#fff" stroke="#4a5b66" stroke-width="1"/>
<path d="M1068.5 280V343" stroke="#4a5b66" stroke-width="1"/>
<rect x="1066.5" y="302.5" width="4" height="28" fill="#4a5b66" stroke="#3e505c" stroke-width="1"/>
<path d="M1075.5 320V359" stroke="#4a5b66" stroke-width="1"/>
<rect x="1073.5" y="329.5" width="4" height="7" fill="#4a5b66" stroke="#3e505c" stroke-width="1"/>
<path d="M1082.5 316V376" stroke="#4a5b66" stroke-width="1"/>
<rect x="1080.5" y="333.5" width="4" height="41" fill="#4a5b66" stroke="#3e505c" stroke-width="1"/>
<path d="M1089.5 357V381" stroke="#4a5b66" stroke-width="1"/>
<rect x="1087.5" y="373.5" width="4" height="2" fill="#4a5b66" stroke="#3e505c" stroke-width="1"/>
<path d="M1096.5 374V377" stroke="#4a5b66" stroke-width="1"/>
<rect x="1094.5" y="357.5" width="4" height="16" fill="#fff" stroke="#4a5b66" stroke-width="1"/>
<path d="M1103.5 353V372" stroke="#4a5b66" stroke-width="1"/>
<rect x="1101.5" y="357.5" width="4" height="11" fill="#4a5b66" stroke="#3e505c" stroke-width="1"/>
<path d="M1110.5 361V384" stroke="#4a5b66" stroke-width="1"/>
<rect x="1108.5" y="366.5" width="4" height="17" fill="#4a5b66" stroke="#3e505c" stroke-width="1"/>
<path d="M1117.5 364V371" stroke="#4a5b66" stroke-width="1"/>
<rect x="1115.5" y="371.5" width="4" height="11" fill="#fff" stroke="#4a5b66" stroke-width="1"/>
<path d="M1124.5 372V382" stroke="#4a5b66" stroke-width="1"/>
<rect x="1122.5" y="372.5" width="4" height="4" fill="#4a5b66" stroke="#3e505c" stroke-width="1"/>
<path d="M1131.5 355V363" stroke="#4a5b66" stroke-width="1"/>
<rect x="1129.5" y="363.5" width="4" height="13" fill="#fff" stroke="#4a5b66" stroke-width="1"/>
<path d="M1138.5 362V378" stroke="#4a5b66" stroke-width="1"/>
<rect x="1136.5" y="363.5" width="4" height="5" fill="#4a5b66" stroke="#3e505c" stroke-width="1"/>
<path d="M1146.5 346V353" stroke="#4a5b66" stroke-width="1"/>
<rect x="1144.5" y="353.5" width="4" height="15" fill="#fff" stroke="#4a5b66" stroke-width="1"/>
<path d="M1153.5 347V349" stroke="#4a5b66" stroke-width="1"/>
<path d="M1153.5 356V362" stroke="#4a5b66" stroke-width="1"/>
<rect x="1151.5" y="349.5" width="4" height="6" fill="#fff" stroke="#4a5b66" stroke-width="1"/>
<path d="M1160.5 346V365" stroke="#4a5b66" stroke-width="1"/>
<rect x="1158.5" y="348.5" width="4" height="15" fill="#4a5b66" stroke="#3e505c" stroke-width="1"/>
<path d="M1167.5 361V379" stroke="#4a5b66" stroke-width="1"/>
<rect x="1165.5" y="362.5" width="4" height="2" fill="#4a5b66" stroke="#3e505c" stroke-width="1"/>
<path d="M1174.5 353V358" stroke="#4a5b66" stroke-width="1"/>
<path d="M1174.5 365V368" stroke="#4a5b66" stroke-width="1"/>
<rect x="1172.5" y="358.5" width="4" height="6" fill="#fff" stroke="#4a5b66" stroke-width="1"/>
<path d="M1181.5 343V350" stroke="#4a5b66" stroke-width="1"/>
<path d="M1181.5 360V373" stroke="#4a5b66" stroke-width="1"/>
<rect x="1179.5" y="350.5" width="4" height="9" fill="#fff" stroke="#4a5b66" stroke-width="1"/>
<path d="M1188.5 337V373" stroke="#4a5b66" stroke-width="1"/>
<rect x="1186.5" y="349.5" width="4" height="23" fill="#4a5b66" stroke="#3e505c" stroke-width="1"/>
<path d="M1195.5 372V378" stroke="#4a5b66" stroke-width="1"/>
<rect x="1193.5" y="355.5" width="4" height="16" fill="#fff" stroke="#4a5b66" stroke-width="1"/>
<path d="M1202.5 347V384" stroke="#4a5b66" stroke-width="1"/>
<rect x="1200.5" y="355.5" width="4" height="28" fill="#4a5b66" stroke="#3e505c" stroke-width="1"/>
<path d="M1209.5 371V392" stroke="#4a5b66" stroke-width="1"/>
<rect x="1207.5" y="379.5" width="4" height="10" fill="#4a5b66" stroke="#3e505c" stroke-width="1"/>
<path d="M1216.5 387V421" stroke="#4a5b66" stroke-width="1"/>
<rect x="1214.5" y="389.5" width="4" height="31" fill="#4a5b66" stroke="#3e505c" stroke-width="1"/>
<path d="M1223.5 419V443" stroke="#4a5b66" stroke-width="1"/>
<rect x="1221.5" y="419.5" width="4" height="7" fill="#4a5b66" stroke="#3e505c" stroke-width="1"/>
<path d="M1230.5 414V467" stroke="#4a5b66" stroke-width="1"/>
<rect x="1228.5" y="424.5" width="4" height="36" fill="#4a5b66" stroke="#3e505c" stroke-width="1"/>
<path d="M1237.5 459V508" stroke="#4a5b66" stroke-width="1"/>
<rect x="1235.5" y="460.5" width="4" height="47" fill="#4a5b66" stroke="#3e505c" stroke-width="1"/>
<path d="M1244.5 479V536" stroke="#4a5b66" stroke-width="1"/>
<rect x="1242.5" y="506.5" width="4" height="24" fill="#4a5b66" stroke="#3e505c" stroke-width="1"/>
<path d="M1251.5 525V589" stroke="#4a5b66" stroke-width="1"/>
<rect x="1249.5" y="529.5" width="4" height="34" fill="#4a5b66" stroke="#3e505c" stroke-width="1"/>
<path d="M1258.5 531V565" stroke="#4a5b66" stroke-width="1"/>
<rect x="1256.5" y="562.5" width="4" height="2" fill="#4a5b66" stroke="#3e505c" stroke-width="1"/>
<path d="M1265.5 560V589" stroke="#4a5b66" stroke-width="1"/>
<rect x="1263.5" y="562.5" width="4" height="19" fill="#4a5b66" stroke="#3e505c" stroke-width="1"/>
<path d="M1272.5 576V612" stroke="#4a5b66" stroke-width="1"/>
<rect x="1270.5" y="580.5" width="4" height="26" fill="#4a5b66" stroke="#3e505c" stroke-width="1"/>
<path d="M1279.5 577V593" stroke="#4a5b66" stroke-width="1"/>
<path d="M1279.5 623V628" stroke="#4a5b66" stroke-width="1"/>
<rect x="1277.5" y="593.5" width="4" height="29" fill="#fff" stroke="#4a5b66" stroke-width="1"/>
<path d="M1286.5 573V628" stroke="#4a5b66" stroke-width="1"/>
<rect x="1284.5" y="593.5" width="4" height="4" fill="#4a5b66" stroke="#3e505c" stroke-width="1"/>
<path d="M1293.5 582V626" stroke="#4a5b66" stroke-width="1"/>
<rect x="1291.5" y="596.5" width="4" height="29" fill="#4a5b66" stroke="#3e505c" stroke-width="1"/>
<path d="M1300.5 623V656" stroke="#4a5b66" stroke-width="1"/>
<rect x="1298.5" y="624.5" width="4" height="16" fill="#4a5b66" stroke="#3e505c" stroke-width="1"/>
<path d="M1307.5 632V663" stroke="#4a5b66" stroke-width="1"/>
<rect x="1305.5" y="638.5" width="4" height="6" fill="#4a5b66" stroke="#3e505c" stroke-width="1"/>
<path d="M1314.5 631V634" stroke="#4a5b66" stroke-width="1"/>
<path d="M1314.5 645V648" stroke="#4a5b66" stroke-width="1"/>
<rect x="1312.5" y="634.5" width="4" height="10" fill="#fff" stroke="#4a5b66" stroke-width="1"/>
<path d="M1321.5 626V656" stroke="#4a5b66" stroke-width="1"/>
<rect x="1319.5" y="633.5" width="4" height="16" fill="#4a5b66" stroke="#3e505c" stroke-width="1"/>
<path d="M1328.5 644V663" stroke="#4a5b66" stroke-width="1"/>
<rect x="1326.5" y="648.5" width="4" height="2" fill="#4a5b66" stroke="#3e505c" stroke-width="1"/>
<path d="M1336.5 636V645" stroke="#4a5b66" stroke-width="1"/>
<path d="M1336.5 650V663" stroke="#4a5b66" stroke-width="1"/>
<rect x="1334.5" y="645.5" width="4" height="4" fill="#fff" stroke="#4a5b66" stroke-width="1"/>
<path d="M1343.5 647V650" stroke="#4a5b66" stroke-width="1"/>
<rect x="1341.5" y="608.5" width="4" height="38" fill="#fff" stroke="#4a5b66" stroke-width="1"/>
<path d="M1350.5 609V653" stroke="#4a5b66" stroke-width="1"/>
<rect x="1348.5" y="609.5" width="4" height="32" fill="#4a5b66" stroke="#3e505c" stroke-width="1"/>
<path d="M1357.5 638V666" stroke="#4a5b66" stroke-width="1"/>
<rect x="1355.5" y="640.5" width="4" height="22" fill="#4a5b66" stroke="#3e505c" stroke-width="1"/>
<path d="M1364.5 662V674" stroke="#4a5b66" stroke-width="1"/>
<rect x="1362.5" y="651.5" width="4" height="10" fill="#fff" stroke="#4a5b66" stroke-width="1"/>
<path d="M1371.5 631V639" stroke="#4a5b66" stroke-width="1"/>
<rect x="1369.5" y="639.5" width="4" height="14" fill="#fff" stroke="#4a5b66" stroke-width="1"/>
<path d="M1378.5 601V603" stroke="#4a5b66" stroke-width="1"/>
<path d="M1378.5 641V644" stroke="#4a5b66" stroke-width="1"/>
<rect x="1376.5" y="603.5" width="4" height="37" fill="#fff" stroke="#4a5b66" stroke-width="1"/>
<path d="M1385.5 565V589" stroke="#4a5b66" stroke-width="1"/>
<rect x="1383.5" y="589.5" width="4" height="15" fill="#fff" stroke="#4a5b66" stroke-width="1"/>
<path d="M1392.5 582V647" stroke="#4a5b66" stroke-width="1"/>
<rect x="1390.5" y="589.5" width="4" height="40" fill="#4a5b66" stroke="#3e505c" stroke-width="1"/>
<path d="M1399.5 597V654" stroke="#4a5b66" stroke-width="1"/>
<rect x="1397.5" y="627.5" width="4" height="25" fill="#4a5b66" stroke="#3e505c" stroke-width="1"/>
<path d="M1406.5 600V615" stroke="#4a5b66" stroke-width="1"/>
<path d="M1406.5 652V663" stroke="#4a5b66" stroke-width="1"/>
<rect x="1404.5" y="615.5" width="4" height="36" fill="#fff" stroke="#4a5b66" stroke-width="1"/>
<path d="M1413.5 568V589" stroke="#4a5b66" stroke-width="1"/>
<rect x="1411.5" y="589.5" width="4" height="27" fill="#fff" stroke="#4a5b66" stroke-width="1"/>
<path d="M1420.5 581V586" stroke="#4a5b66" stroke-width="1"/>
<path d="M1420.5 591V600" stroke="#4a5b66" stroke-width="1"/>
<rect x="1418.5" y="586.5" width="4" height="4" fill="#fff" stroke="#4a5b66" stroke-width="1"/>
<path d="M1427.5 546V556" stroke="#4a5b66" stroke-width="1"/>
<rect x="1425.5" y="556.5" width="4" height="30" fill="#fff" stroke="#4a5b66" stroke-width="1"/>
<path d="M1434.5 552V570" stroke="#4a5b66" stroke-width="1"/>
<rect x="1432.5" y="555.5" width="4" height="10" fill="#4a5b66" stroke="#3e505c" stroke-width="1"/>
<path d="M1441.5 558V594" stroke="#4a5b66" stroke-width="1"/>
<rect x="1439.5" y="564.5" width="4" height="29" fill="#4a5b66" stroke="#3e505c" stroke-width="1"/>
<rect x="1446.5" y="566.5" width="4" height="36" fill="#fff" stroke="#4a5b66" stroke-width="1"/>
<rect x="1453.5" y="559.5" width="4" height="16" fill="#fff" stroke="#4a5b66" stroke-width="1"/>
<path d="M1462.5 553V558" stroke="#4a5b66" stroke-width="1"/>
<path d="M1462.5 561V565" stroke="#4a5b66" stroke-width="1"/>
<rect x="1460.5" y="558.5" width="4" height="2" fill="#fff" stroke="#4a5b66" stroke-width="1"/>
<path d="M1469.5 545V550" stroke="#4a5b66" stroke-width="1"/>
<rect x="1467.5" y="550.5" width="4" height="8" fill="#fff" stroke="#4a5b66" stroke-width="1"/>
<path d="M1476.5 545V576" stroke="#4a5b66" stroke-width="1"/>
<rect x="1474.5" y="549.5" width="4" height="9" fill="#4a5b66" stroke="#3e505c" stroke-width="1"/>
<path d="M1483.5 534V535" stroke="#4a5b66" stroke-width="1"/>
<rect x="1481.5" y="535.5" width="4" height="23" fill="#fff" stroke="#4a5b66" stroke-width="1"/>
<path d="M1490.5 505V511" stroke="#4a5b66" stroke-width="1"/>
<path d="M1490.5 537V540" stroke="#4a5b66" stroke-width="1"/>
<rect x="1488.5" y="511.5" width="4" height="25" fill="#fff" stroke="#4a5b66" stroke-width="1"/>
<path d="M1497.5 496V505" stroke="#4a5b66" stroke-width="1"/>
<path d="M1497.5 514V515" stroke="#4a5b66" stroke-width="1"/>
<rect x="1495.5" y="505.5" width="4" height="8" fill="#fff" stroke="#4a5b66" stroke-width="1"/>
<path d="M1504.5 496V500" stroke="#4a5b66" stroke-width="1"/>
<path d="M1504.5 507V512" stroke="#4a5b66" stroke-width="1"/>
<rect x="1502.5" y="500.5" width="4" height="6" fill="#fff" stroke="#4a5b66" stroke-width="1"/>
<path d="M1511.5 496V537" stroke="#4a5b66" stroke-width="1"/>
<rect x="1509.5" y="502.5" width="4" height="12" fill="#4a5b66" stroke="#3e505c" stroke-width="1"/>
<path d="M1518.5 498V530" stroke="#4a5b66" stroke-width="1"/>
<rect x="1516.5" y="514.5" width="4" height="15" fill="#4a5b66" stroke="#3e505c" stroke-width="1"/>
<path d="M1526.5 524V582" stroke="#4a5b66" stroke-width="1"/>
<rect x="1524.5" y="528.5" width="4" height="51" fill="#4a5b66" stroke="#3e505c" stroke-width="1"/>
<path d="M1533.5 562V575" stroke="#4a5b66" stroke-width="1"/>
<path d="M1533.5 580V582" stroke="#4a5b66" stroke-width="1"/>
<rect x="1531.5" y="575.5" width="4" height="4" fill="#fff" stroke="#4a5b66" stroke-width="1"/>
</g>
<path d="M6.1 155.6 L31.9 152.0 L69.9 150.7 L90.0 149.7 L108.0 148.6 L126.0 146.5 L139.7 144.4 L161.8 139.7 L196.0 133.0 L223.5 126.7 L257.4 123.3 L290.0 120.8 L326.8 118.9 L363.5 115.7 L397.8 112.0 L428.7 103.6 L440.0 102.4 L452.9 100.9 L469.6 99.8 L478.0 99.0 L548.0 98.9 L555.8 99.7 L561.0 101.3 L568.7 102.6 L580.0 104.4 L585.0 105.0 L604.3 107.9 L610.7 110.1 L618.5 109.9 L645.5 114.0 L653.2 116.0 L659.6 116.7 L675.1 120.7 L682.8 124.2 L690.5 126.2 L708.5 134.3 L724.0 138.8 L730.0 141.6 L737.7 143.9 L745.4 147.3 L772.5 154.8 L780.2 155.8 L807.2 163.8 L814.9 165.0 L822.7 167.1 L829.1 168.0 L836.8 170.2 L843.3 171.2 L851.0 173.1 L863.8 174.7 L871.6 177.0 L880.0 180.4 L885.3 182.4 L893.0 187.1 L900.7 190.3 L913.6 194.0 L920.0 195.0 L929.0 197.2 L948.4 199.9 L956.1 199.9 L962.5 200.8 L970.2 202.8 L983.1 204.7 L990.8 206.6 L1003.7 208.6 L1012.7 210.7 L1020.0 212.1 L1026.4 213.2 L1032.9 214.6 L1039.3 214.8 L1053.5 218.3 L1075.3 224.5 L1089.5 230.8 L1097.2 233.1 L1117.8 241.7 L1125.5 244.1 L1132.0 246.6 L1161.3 255.1 L1170.0 257.6 L1193.1 264.2 L1210.3 270.3 L1222.5 275.5 L1239.7 285.0 L1256.9 298.0 L1278.9 315.9 L1293.6 326.7 L1305.9 337.7 L1320.6 351.2 L1347.5 371.6 L1359.8 381.4 L1377.0 393.6 L1391.8 402.8 L1399.1 407.9 L1412.4 415.3 L1428.5 422.6 L1447.6 430.7 L1463.8 436.3 L1490.3 443.5 L1510.9 446.9 L1518.2 448.7 L1527.1 452.1 L1532.9 454.0" fill="none" stroke="#e53030" stroke-width="2" stroke-linejoin="round" stroke-linecap="round"/>
<!-- current price line -->
<path d="M2 576.5H1712" stroke="#8a9499" stroke-width="1" shape-rendering="crispEdges"/>
<!-- blue dashed -->
<!-- rect 1 -->
<rect x="850.5" y="218.5" width="275" height="154" fill="rgba(72,206,160,0.17)" stroke="#0cb272" stroke-width="1"/>
<!-- circle -->
<ellipse cx="1526.5" cy="556" rx="42" ry="43.5" fill="rgba(255,235,59,0.25)" stroke="#ff9800" stroke-width="1.2"/>
<path d="M8 519.3H1665" stroke="#1ea7ee" stroke-width="2.5" stroke-dasharray="9 7"/>
<!-- rect 2 -->
<rect x="1315.5" y="519.5" width="274" height="155" fill="rgba(72,206,160,0.17)" stroke="#0cb272" stroke-width="1"/>
<!-- fib -->
<g stroke="#6fd8b0" stroke-width="1" fill="none">
<path d="M1364.5 495.5H1526.5"/>
<path d="M1420.6 495.5L1364.5 673.6"/>
<path d="M1364.5 723.5H1526.5"/>
<path d="M1364.5 784.5H1526.5"/>
</g>
<!-- TP lines -->
<path d="M1335.5 663.7H1665" stroke="#12b076" stroke-width="2" stroke-dasharray="10 6"/>
<path d="M1343 782.4H1665" stroke="#12b076" stroke-width="2" stroke-dasharray="10 6"/>
<!-- SL line -->
<path d="M1476.6 487.9H1665" stroke="#e53030" stroke-width="2" stroke-dasharray="10 6"/>
<!-- arrow -->
<path d="M1503.5 461.3H1507.6V477.8L1515.7 469.6V475.6L1505.6 485.6L1495.3 475.6V469.6L1503.5 477.8Z" fill="#f39a9a" stroke="#e53030" stroke-width="1.8" stroke-linejoin="miter"/>
<!-- label tags -->
<rect x="1665" y="481.2" width="49" height="14.6" fill="#e53535"/>
<rect x="1665" y="512.2" width="49" height="14.6" fill="#0fa5f0"/>
<rect x="1665" y="657.2" width="49" height="14.6" fill="#0fae72"/>
<rect x="1665" y="775.1" width="49" height="14.6" fill="#0fae72"/>
<!-- header triangles -->
<path d="M94.1 15.1H101.8L97.9 18.5Z" fill="#888"/>
<path d="M170 17.1H178L174 20.5Z" fill="#888"/>
<!-- bottom-left icons -->
<g fill="#b5b5b5">
<rect x="6" y="777.3" width="10" height="1.6"/><rect x="6" y="780.5" width="10" height="1.6"/><rect x="6" y="783.9" width="10" height="1.7"/>
<rect x="12" y="777.3" width="4" height="4.8" fill="#c8c8c8"/>
</g>
<path d="M20.5 779L27 785.5M27 779L20.5 785.5" stroke="#b0b0b0" stroke-width="2.2"/>
</svg>
<div id="txt" style="position:absolute;left:0;top:0;width:1781px;height:816px;will-change:transform;">
<div class="pl" style="top:49.7px">1.39061</div>
<div class="pl" style="top:86.4px">1.38921</div>
<div class="pl" style="top:123.2px">1.38781</div>
<div class="pl" style="top:160.0px">1.38641</div>
<div class="pl" style="top:196.8px">1.38501</div>
<div class="pl" style="top:233.6px">1.38361</div>
<div class="pl" style="top:270.4px">1.38221</div>
<div class="pl" style="top:307.2px">1.38081</div>
<div class="pl" style="top:344.0px">1.37942</div>
<div class="pl" style="top:380.8px">1.37802</div>
<div class="pl" style="top:417.5px">1.37662</div>
<div class="pl" style="top:454.3px">1.37522</div>
<div class="pl" style="top:491.1px">1.37382</div>
<div class="pl" style="top:527.9px">1.37242</div>
<div class="pl" style="top:564.7px">1.37102</div>
<div class="pl" style="top:601.5px">1.36962</div>
<div class="pl" style="top:638.3px">1.36823</div>
<div class="pl" style="top:675.1px">1.36683</div>
<div class="pl" style="top:711.9px">1.36543</div>
<div class="pl" style="top:748.7px">1.36403</div>
<div class="pl" style="top:780.8px">1.36263</div>
<div class="tl" style="left:6.0px"><span style="letter-spacing:0.17px">14.01.2026</span><span style="margin-left:0.8px"></span>&nbsp; 08:00</div>
<div class="tl" style="left:132.7px">15.01&nbsp; 02:00</div>
<div class="tl" style="left:259.3px">15.01&nbsp; 20:00</div>
<div class="tl" style="left:386.0px">16.01&nbsp; 14:00</div>
<div class="tl" style="left:512.7px">19.01&nbsp; 09:00</div>
<div class="tl" style="left:639.4px">20.01&nbsp; 03:00</div>
<div class="tl" style="left:766.0px">20.01&nbsp; 21:00</div>
<div class="tl" style="left:892.7px">21.01&nbsp; 15:00</div>
<div class="tl" style="left:1019.4px">22.01&nbsp; 09:00</div>
<div class="tl" style="left:1146.0px">23.01&nbsp; 03:00</div>
<div class="tl" style="left:1272.7px">23.01&nbsp; 21:00</div>
<div class="tl" style="left:1399.4px">26.01&nbsp; 16:00</div>
<div class="tl" style="left:1526.0px">27.01&nbsp; 10:00</div>
<div class="tl" style="left:1652.7px">28.01&nbsp; 04:00</div>
<div class="tag" style="top:481.2px">1.37420</div>
<div class="tag" style="top:512.2px">1.37300</div>
<div class="tag" style="top:657.2px">1.36750</div>
<div class="tag" style="top:775.1px">1.36300</div>
<div style="position:absolute;left:1709px;top:568px;width:60px;height:17px;"><svg width="60" height="17" viewBox="1709 568 60 17" style="position:absolute;left:0;top:0"><path d="M1709.6 576.4L1717.3 568.3H1768.7V584.6H1717.3Z" fill="#828e94"/></svg></div>
<div style="position:absolute;left:1721.5px;top:569.5px;font-size:11.8px;line-height:14px;font-weight:bold;color:#fff;white-space:nowrap;">1.37081</div>
<div class="big" style="left:1598.8px;top:459.7px;color:#e53030;">SL</div>
<div class="big" style="left:1592px;top:642.7px;color:#12b076;">TP1</div>
<div class="big" style="left:1592px;top:755.7px;color:#12b076;">TP2</div>
<div class="fib" style="left:1506.5px;top:481.8px;">0.0</div>
<div class="fib" style="top:661.4px;">100.0</div>
<div class="fib" style="top:710.3px;">127.2</div>
<div class="fib" style="top:771.3px;">161.8</div>
<div style="position:absolute;left:20px;top:11.5px;font-size:12.5px;line-height:14px;font-weight:bold;color:#3a4750;white-space:nowrap;transform:scaleX(0.885);transform-origin:0 0;">USDCAD</div>
<div style="position:absolute;left:71px;top:14.3px;font-size:8px;line-height:10px;color:#999;font-weight:bold;white-space:nowrap;transform:scaleX(0.85);transform-origin:0 0;">CFD</div>
<div style="position:absolute;left:143.5px;top:14px;font-size:9.8px;line-height:12px;color:#6f787d;white-space:nowrap;transform:scaleX(0.93);transform-origin:0 0;">H1</div>
<div style="position:absolute;left:31.5px;top:777.5px;font-size:9.4px;line-height:12px;color:#777;white-space:nowrap;">EMA&nbsp; <span style="letter-spacing:0.3px">1.37544</span></div>
</div>
</body></html>
